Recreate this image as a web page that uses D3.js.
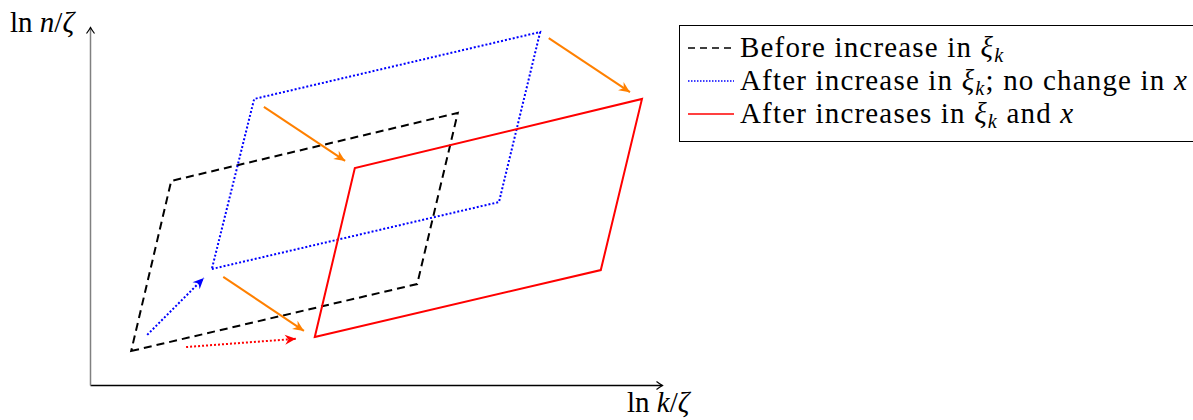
<!DOCTYPE html>
<html lang="en">
<head>
  <meta charset="UTF-8">
  <title>Shift of the feasible region</title>
  <style>
    body {
      margin: 0;
      padding: 0;
      background-color: #fff;
    }
    svg text, svg tspan {
      font-family: "Liberation Serif", serif;
      fill: #000;
    }
  </style>
</head>
<body>
  <svg id="chart"></svg>

  <script src="https://d3js.org/d3.v7.min.js"></script>
  <script>
    const width = 1193;
    const height = 420;

    // parallelogram vertices in (ln k/ζ, ln n/ζ) units
    const beforeRegion = [[0.72, 0.95], [5.72, 2.82], [6.43, 7.60], [1.42, 5.70]];
    const afterXiRegion = [[2.13, 3.24], [7.15, 5.11], [7.87, 9.86], [2.87, 7.99]];
    const afterBothRegion = [[3.93, 1.34], [8.93, 3.21], [9.65, 7.99], [4.63, 6.06]];

    // shift arrows: [start, end]
    const orangeArrows = [
      [[3.04, 7.77], [4.46, 6.26]],
      [[8.02, 9.69], [9.44, 8.18]],
      [[2.33, 3.02], [3.74, 1.51]]
    ];
    const blueArrow = [[1.00, 1.40], [1.99, 2.99]];
    const redArrow = [[1.68, 1.06], [3.60, 1.29]];

    const legendLabels = [
      [["Before increase in ", ""], ["ξ", "math"], ["k", "sub"]],
      [["After increase in ", ""], ["ξ", "math"], ["k", "sub"], ["; no change in ", ""], ["x", "math"]],
      [["After increases in ", ""], ["ξ", "math"], ["k", "sub"], [" and ", ""], ["x", "math"]]
    ];
    const legendStyles = [
      { color: "#000", dash: "7,5", width: 1.6 },
      { color: "#0000ff", dash: "1.5,1.5", width: 1.6 },
      { color: "#ff0000", dash: null, width: 1.6 }
    ];

    const svg = d3.select("#chart")
      .attr("width", width)
      .attr("height", height);

    const x = d3.scaleLinear().domain([0, 10]).range([90, 662]);
    const y = d3.scaleLinear().domain([0, 10]).range([385, 27]);

    const defs = svg.append("defs");

    function headMarker(id, color) {
      defs.append("marker")
        .attr("id", id)
        .attr("viewBox", "-12 -6 14 12")
        .attr("refX", 0)
        .attr("refY", 0)
        .attr("markerWidth", 14)
        .attr("markerHeight", 12)
        .attr("markerUnits", "userSpaceOnUse")
        .attr("orient", "auto")
        .append("path")
        .attr("d", "M0,0 L-11,-5 L-7.5,0 L-11,5 Z")
        .attr("fill", color);
    }
    headMarker("head-orange", "#ff8000");
    headMarker("head-blue", "#0000ff");
    headMarker("head-red", "#ff0000");

    defs.append("marker")
      .attr("id", "axis-head")
      .attr("viewBox", "-8 -5 10 10")
      .attr("refX", 0)
      .attr("refY", 0)
      .attr("markerWidth", 10)
      .attr("markerHeight", 10)
      .attr("markerUnits", "userSpaceOnUse")
      .attr("orient", "auto")
      .append("path")
      .attr("d", "M-6,-4 Q-2,-1 0,0 Q-2,1 -6,4")
      .attr("fill", "none")
      .attr("stroke", "#000")
      .attr("stroke-width", 1.2);

    // axes
    const xAxis = svg.append("g")
      .attr("transform", `translate(0,${y(0)})`)
      .call(d3.axisBottom(x).ticks(0).tickSizeOuter(0));
    xAxis.select(".domain")
      .attr("stroke", "#000")
      .attr("stroke-width", 1.3)
      .attr("marker-end", "url(#axis-head)");

    const yAxis = svg.append("g")
      .attr("transform", `translate(${x(0)},0)`)
      .call(d3.axisLeft(y).ticks(0).tickSizeOuter(0));
    yAxis.select(".domain")
      .attr("stroke", "#808080")
      .attr("stroke-width", 1.5)
      .attr("marker-end", "url(#axis-head)");

    const fontSize = 29;

    // text with italic math pieces and a lowered subscript
    function mathLabel(g, parts) {
      let shift = 0;
      parts.forEach(p => {
        const t = g.append("tspan").text(p[0]);
        if (p[1] === "math") t.style("font-style", "italic");
        if (p[1] === "sub") {
          t.style("font-style", "italic")
            .attr("font-size", fontSize * 0.7)
            .attr("dy", 5);
          shift = -5;
        } else if (shift) {
          t.attr("dy", shift);
          shift = 0;
        }
      });
    }

    svg.append("text")
      .attr("x", 10)
      .attr("y", 32)
      .attr("font-size", fontSize)
      .call(g => mathLabel(g, [["ln ", ""], ["n", "math"], ["/", ""], ["ζ", "math"]]));

    svg.append("text")
      .attr("x", 627)
      .attr("y", 412)
      .attr("font-size", fontSize)
      .call(g => mathLabel(g, [["ln ", ""], ["k", "math"], ["/", ""], ["ζ", "math"]]));

    const line = d3.line().x(d => x(d[0])).y(d => y(d[1]));

    // regions
    svg.append("path")
      .datum(beforeRegion)
      .attr("d", d => line(d) + "Z")
      .attr("fill", "none")
      .attr("stroke", "#000")
      .attr("stroke-width", 2)
      .attr("stroke-dasharray", "8,5");

    svg.append("path")
      .datum(afterXiRegion)
      .attr("d", d => line(d) + "Z")
      .attr("fill", "none")
      .attr("stroke", "#0000ff")
      .attr("stroke-width", 2)
      .attr("stroke-dasharray", "2,2");

    svg.append("path")
      .datum(afterBothRegion)
      .attr("d", d => line(d) + "Z")
      .attr("fill", "none")
      .attr("stroke", "#ff0000")
      .attr("stroke-width", 2);

    // arrows
    svg.selectAll(".shift")
      .data(orangeArrows)
      .enter()
      .append("path")
      .attr("class", "shift")
      .attr("d", line)
      .attr("fill", "none")
      .attr("stroke", "#ff8000")
      .attr("stroke-width", 2)
      .attr("marker-end", "url(#head-orange)");

    svg.append("path")
      .datum(blueArrow)
      .attr("d", line)
      .attr("fill", "none")
      .attr("stroke", "#0000ff")
      .attr("stroke-width", 2)
      .attr("stroke-dasharray", "2,2")
      .attr("marker-end", "url(#head-blue)");

    svg.append("path")
      .datum(redArrow)
      .attr("d", line)
      .attr("fill", "none")
      .attr("stroke", "#ff0000")
      .attr("stroke-width", 2)
      .attr("stroke-dasharray", "2,2")
      .attr("marker-end", "url(#head-red)");

    // legend
    const legend = svg.append("g");
    legend.append("rect")
      .attr("x", 679.5)
      .attr("y", 25.5)
      .attr("width", 540)
      .attr("height", 116)
      .attr("fill", "#fff")
      .attr("stroke", "#000")
      .attr("stroke-width", 1);

    const rowBase = [57, 90, 123];
    const legendTexts = legendLabels.map((parts, i) => {
      const st = legendStyles[i];
      legend.append("line")
        .attr("x1", 688)
        .attr("x2", 734)
        .attr("y1", rowBase[i] - 9)
        .attr("y2", rowBase[i] - 9)
        .attr("stroke", st.color)
        .attr("stroke-width", st.width)
        .attr("stroke-dasharray", st.dash);
      return legend.append("text")
        .attr("x", 740)
        .attr("y", rowBase[i])
        .attr("font-size", fontSize)
        .call(g => mathLabel(g, parts));
    });

    // widen the legend lettering a little so the longest entry ends where the reference does
    const longest = legendTexts[1].node();
    const chars = longest.textContent.length;
    const spacing = Math.max(0, (448 - longest.getComputedTextLength()) / chars);
    legendTexts.forEach(t => t.style("letter-spacing", spacing + "px"));
  </script>
</body>
</html>
